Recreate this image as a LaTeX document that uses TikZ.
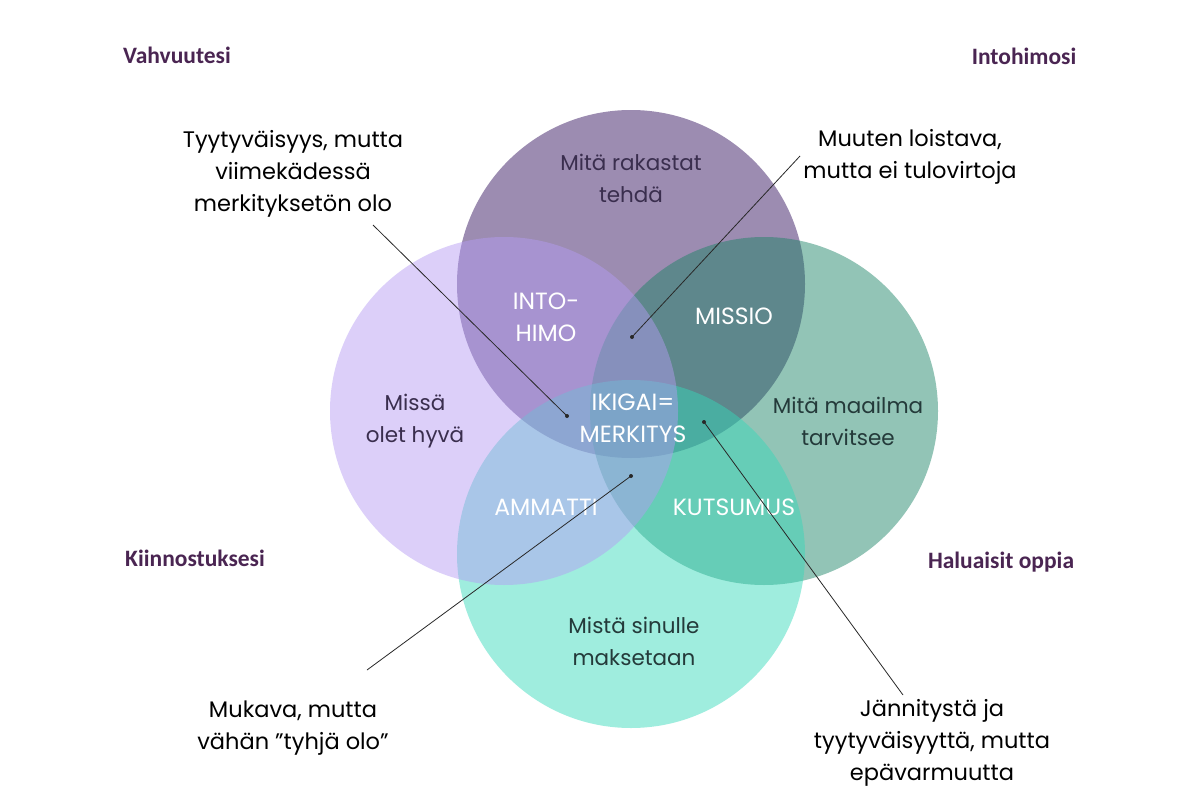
\documentclass[tikz,border=0pt]{standalone}
\usepackage{fontspec}
\setmainfont{Poppins}
\newfontfamily\cornerfont{Carlito}
\definecolor{cTop}{RGB}{46,12,91}
\definecolor{cRight}{RGB}{25,130,100}
\definecolor{cBottom}{RGB}{53,217,185}
\definecolor{cLeft}{RGB}{181,155,244}
\definecolor{cCorner}{RGB}{74,37,82}
\definecolor{cDarkP}{RGB}{58,46,78}
\definecolor{cDarkG}{RGB}{36,58,58}
\definecolor{cLine}{RGB}{40,40,40}
\tikzset{
  ring/.style={circle, minimum size=348pt, inner sep=0pt, fill opacity=0.47},
  corner/.style={font=\cornerfont\bfseries\fontsize{23.5}{28}\selectfont, text=cCorner},
  note/.style={align=center, font=\fontsize{22.5}{32}\selectfont, text=black},
  inlbl/.style={align=center, font=\fontsize{21.5}{32}\selectfont},
  wlbl/.style={align=center, font=\fontsize{23.5}{32}\selectfont, text=white},
  conn/.style={draw=cLine, line width=0.8pt},
  dotend/.style={fill=cLine}
}
\begin{document}
\begin{tikzpicture}[x=1pt,y=-1pt]
\useasboundingbox[fill=white] (0,0) rectangle (1200,800);
% circles, in stacking order
\node[ring, fill=cTop] (ctop) at (631,284) {};
\node[ring, fill=cRight] (cright) at (764,411) {};
\node[ring, fill=cBottom] (cbottom) at (631,554) {};
\node[ring, fill=cLeft] (cleft) at (504,411) {};
% circle labels
\node[inlbl, text=cDarkP] (lTop) at (631,178) {Mitä rakastat\\tehdä};
\node[inlbl, text=cDarkP] (lLeft) at (415,421) {Missä\\olet hyvä};
\node[inlbl, text=cDarkG] (lRight) at (848,421) {Mitä maailma\\tarvitsee};
\node[inlbl, text=cDarkG] (lBottom) at (634,641) {Mistä sinulle\\maksetaan};
\node[wlbl] (lInto) at (546,317) {INTO-\\HIMO};
\node[wlbl] (lMissio) at (734,316) {MISSIO};
\node[wlbl] (lIkigai) at (633,418) {IKIGAI=\\MERKITYS};
\node[wlbl] (lAmmatti) at (546,507) {AMMATTI};
\node[wlbl] (lKutsumus) at (734,507) {KUTSUMUS};
% corner labels
\node[corner] (kVahv) at (177,55) {Vahvuutesi};
\node[corner] (kInto) at (1024,56) {Intohimosi};
\node[corner] (kKiin) at (195,558) {Kiinnostuksesi};
\node[corner] (kHalu) at (1001,562) {Haluaisit oppia};
% notes
\node[note] (n1) at (293,174) {Tyytyväisyys, mutta\\viimekädessä\\merkityksetön olo};
\node[note] (n2) at (910,157) {Muuten loistava,\\mutta ei tulovirtoja};
\node[note] (n3) at (293,728) {Mukava, mutta\\vähän ”tyhjä olo”};
\node[note] (n4) at (932,743) {Jännitystä ja\\tyytyväisyyttä, mutta\\epävarmuutta};
% connector end points
\coordinate (p1a) at (373,225);
\coordinate (p1b) at (567,416);
\coordinate (p2a) at (800,156);
\coordinate (p2b) at (632,337);
\coordinate (p3a) at (367,670);
\coordinate (p3b) at (631,476);
\coordinate (p4a) at (903,695);
\coordinate (p4b) at (704,422);
\draw[conn] (p1a) -- (p1b);
\draw[conn] (p2a) -- (p2b);
\draw[conn] (p3a) -- (p3b);
\draw[conn] (p4a) -- (p4b);
\fill[dotend] (p1b) circle (2pt);
\fill[dotend] (p2b) circle (2pt);
\fill[dotend] (p3b) circle (2pt);
\fill[dotend] (p4b) circle (2pt);
\end{tikzpicture}
\end{document}
